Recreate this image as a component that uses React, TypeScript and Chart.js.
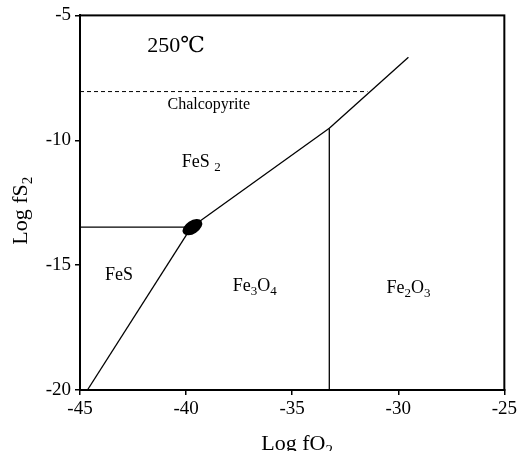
import React, { useEffect, useRef } from "react";
import { Chart, registerables } from "chart.js";

Chart.register(...registerables);

// Axis ranges and ticks (log fO2 vs log fS2 at 250 °C)
const xTicks = [-45, -40, -35, -30, -25];
const yTicks = [-20, -15, -10, -5];

// Phase boundaries
const pyrrhotiteMagnetiteX = [-44.65, -39.75];
const pyrrhotiteMagnetiteY = [-20, -13.48];

const pyriteMagnetiteX = [-39.75, -33.25];
const pyriteMagnetiteY = [-13.48, -9.52];

const pyriteHematiteX = [-33.25, -29.52];
const pyriteHematiteY = [-9.52, -6.68];

const magnetiteHematiteX = [-33.25, -33.25];
const magnetiteHematiteY = [-9.52, -20];

const pyrrhotitePyriteX = [-45, -39.75];
const pyrrhotitePyriteY = [-13.48, -13.48];

// Chalcopyrite stability limit (dashed)
const chalcopyriteX = [-45, -31.45];
const chalcopyriteY = [-8.05, -8.05];

// Triple point field (filled ellipse)
const triplePoint = { x: -39.7, y: -13.48 };

// Field labels: text parts [text, isSubscript], anchored at left / baseline in data units
const fieldLabels: [string, boolean][][] = [
  [["FeS", false], [" ", false], ["2", true]],
  [["FeS", false]],
  [["Fe", false], ["3", true], ["O", false], ["4", true]],
  [["Fe", false], ["2", true], ["O", false], ["3", true]],
];
const fieldLabelX = [-40.2, -43.82, -37.8, -30.55];
const fieldLabelY = [-11.08, -15.6, -16.04, -16.12];

const chalcopyriteLabel = "Chalcopyrite";
const chalcopyriteLabelX = -38.93;
const chalcopyriteLabelY = -8.56;

const temperatureLabel = "250℃";
const temperatureLabelX = -40.7;
const temperatureLabelY = -6.25;

const xTitle: [string, boolean][] = [["Log fO", false], ["2", true]];
const yTitle: [string, boolean][] = [["Log fS", false], ["2", true]];

const SERIF = '"Liberation Serif", "Times New Roman", serif';

function toPoints(xs: number[], ys: number[]) {
  return xs.map((x, i) => ({ x, y: ys[i] }));
}

function drawFormula(
  ctx: CanvasRenderingContext2D,
  parts: [string, boolean][],
  x: number,
  y: number,
  size: number,
  align: "left" | "center"
) {
  const subSize = Math.round(size * 0.7);
  const widths = parts.map(([t, sub]) => {
    ctx.font = `${sub ? subSize : size}px ${SERIF}`;
    return ctx.measureText(t).width;
  });
  const total = widths.reduce((a, b) => a + b, 0);
  let cx = align === "center" ? x - total / 2 : x;
  ctx.textAlign = "left";
  ctx.textBaseline = "alphabetic";
  parts.forEach(([t, sub], i) => {
    ctx.font = `${sub ? subSize : size}px ${SERIF}`;
    ctx.fillText(t, cx, sub ? y + size * 0.22 : y);
    cx += widths[i];
  });
}

const overlayPlugin = {
  id: "diagramOverlay",
  afterDraw(chart: any) {
    const { ctx, chartArea, scales } = chart;
    const xs = scales.x;
    const ys = scales.y;
    ctx.save();
    ctx.fillStyle = "#000";
    ctx.strokeStyle = "#000";

    // plot frame
    ctx.lineWidth = 2;
    ctx.strokeRect(
      chartArea.left,
      chartArea.top,
      chartArea.right - chartArea.left,
      chartArea.bottom - chartArea.top
    );

    // triple point
    ctx.beginPath();
    ctx.ellipse(
      xs.getPixelForValue(triplePoint.x),
      ys.getPixelForValue(triplePoint.y),
      11,
      6.5,
      (-33 * Math.PI) / 180,
      0,
      Math.PI * 2
    );
    ctx.fill();

    // temperature
    ctx.font = `22px "Liberation Serif", "DejaVu Serif", serif`;
    ctx.textAlign = "left";
    ctx.textBaseline = "middle";
    ctx.fillText(
      temperatureLabel,
      xs.getPixelForValue(temperatureLabelX) - 24,
      ys.getPixelForValue(temperatureLabelY)
    );

    // chalcopyrite label
    ctx.font = `16px ${SERIF}`;
    ctx.textAlign = "center";
    ctx.textBaseline = "middle";
    ctx.fillText(
      chalcopyriteLabel,
      xs.getPixelForValue(chalcopyriteLabelX),
      ys.getPixelForValue(chalcopyriteLabelY)
    );

    // field labels
    fieldLabels.forEach((parts, i) => {
      drawFormula(
        ctx,
        parts,
        xs.getPixelForValue(fieldLabelX[i]),
        ys.getPixelForValue(fieldLabelY[i]),
        18,
        "left"
      );
    });

    // axis titles
    drawFormula(ctx, xTitle, (chartArea.left + chartArea.right) / 2 + 5, 450, 22, "center");
    ctx.save();
    ctx.translate(27, (chartArea.top + chartArea.bottom) / 2 + 8);
    ctx.rotate(-Math.PI / 2);
    drawFormula(ctx, yTitle, 0, 0, 22, "center");
    ctx.restore();

    ctx.restore();
  },
};

const lineStyle = {
  showLine: true,
  pointRadius: 0,
  borderColor: "#000",
  borderWidth: 1.3,
  fill: false,
};

export default function App() {
  const canvasRef = useRef<HTMLCanvasElement | null>(null);

  useEffect(() => {
    const canvas = canvasRef.current;
    if (!canvas) return;
    const chart = new Chart(canvas, {
      type: "scatter",
      data: {
        datasets: [
          { ...lineStyle, data: toPoints(pyrrhotiteMagnetiteX, pyrrhotiteMagnetiteY) },
          { ...lineStyle, data: toPoints(pyriteMagnetiteX, pyriteMagnetiteY) },
          { ...lineStyle, data: toPoints(pyriteHematiteX, pyriteHematiteY) },
          { ...lineStyle, data: toPoints(magnetiteHematiteX, magnetiteHematiteY) },
          { ...lineStyle, data: toPoints(pyrrhotitePyriteX, pyrrhotitePyriteY) },
          {
            ...lineStyle,
            borderWidth: 1,
            borderDash: [4, 3],
            data: toPoints(chalcopyriteX, chalcopyriteY),
          },
        ],
      },
      options: {
        responsive: false,
        animation: false,
        devicePixelRatio: 1,
        layout: { padding: { left: 0, right: 15, top: 15, bottom: 0 } },
        plugins: {
          legend: { display: false },
          tooltip: { enabled: false },
        },
        scales: {
          x: {
            type: "linear",
            min: xTicks[0],
            max: xTicks[xTicks.length - 1],
            afterBuildTicks: (scale: any) => {
              scale.ticks = xTicks.map((v) => ({ value: v }));
            },
            afterFit: (scale: any) => {
              scale.height = 61;
            },
            grid: {
              drawOnChartArea: false,
              drawTicks: true,
              tickLength: 5,
              color: "#000",
              lineWidth: 1.5,
            },
            border: { display: true, color: "#000", width: 2 },
            ticks: {
              color: "#000",
              padding: 3,
              font: { family: SERIF, size: 19 },
              callback: (v: any) => String(v),
            },
          },
          y: {
            type: "linear",
            min: yTicks[0],
            max: yTicks[yTicks.length - 1],
            afterBuildTicks: (scale: any) => {
              scale.ticks = yTicks.map((v) => ({ value: v }));
            },
            afterFit: (scale: any) => {
              scale.width = 80;
            },
            grid: {
              drawOnChartArea: false,
              drawTicks: true,
              tickLength: 5,
              color: "#000",
              lineWidth: 1.5,
            },
            border: { display: true, color: "#000", width: 2 },
            ticks: {
              color: "#000",
              padding: 4,
              font: { family: SERIF, size: 19 },
              callback: (v: any) => String(v),
            },
          },
        },
      },
      plugins: [overlayPlugin],
    });
    return () => chart.destroy();
  }, []);

  return (
    <div style={{ position: "fixed", left: 0, top: 0, width: 520, height: 451, background: "#fff" }}>
      <canvas ref={canvasRef} width={520} height={451} style={{ display: "block" }} />
    </div>
  );
}
